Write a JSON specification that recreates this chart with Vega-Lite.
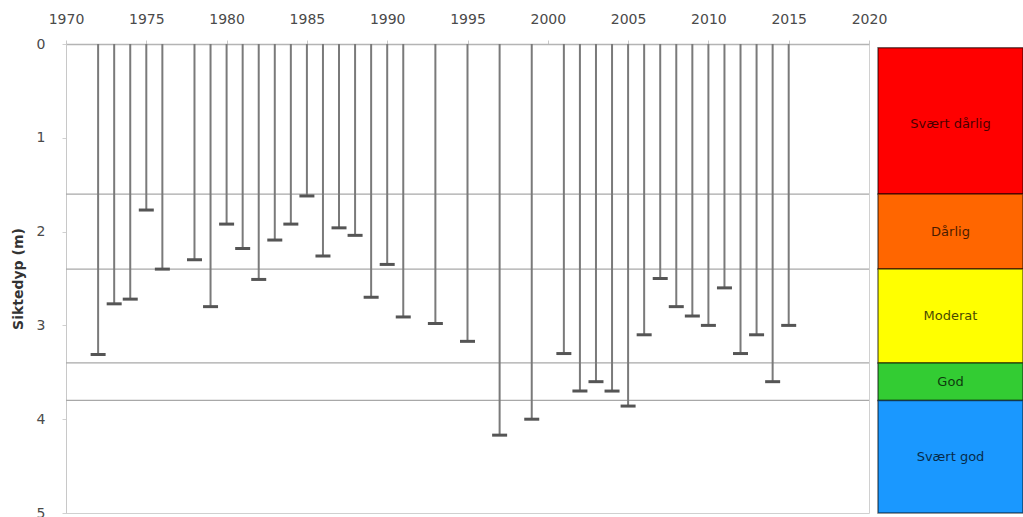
{
  "$schema": "https://vega.github.io/schema/vega-lite/v6.json",
  "padding": {"left": 10, "top": 11, "right": 0, "bottom": 0},
  "background": "white",
  "spacing": 9,
  "bounds": "flush",
  "config": {
    "font": "DejaVu Sans",
    "axis": {"labelFont": "DejaVu Sans", "titleFont": "DejaVu Sans"}
  },
  "datasets": {
    "depth": [
      {"year": 1972, "depth": 3.31}, {"year": 1973, "depth": 2.77}, {"year": 1974, "depth": 2.72},
      {"year": 1975, "depth": 1.77}, {"year": 1976, "depth": 2.40}, {"year": 1978, "depth": 2.30},
      {"year": 1979, "depth": 2.80}, {"year": 1980, "depth": 1.92}, {"year": 1981, "depth": 2.18},
      {"year": 1982, "depth": 2.51}, {"year": 1983, "depth": 2.09}, {"year": 1984, "depth": 1.92},
      {"year": 1985, "depth": 1.62}, {"year": 1986, "depth": 2.26}, {"year": 1987, "depth": 1.96},
      {"year": 1988, "depth": 2.04}, {"year": 1989, "depth": 2.70}, {"year": 1990, "depth": 2.35},
      {"year": 1991, "depth": 2.91}, {"year": 1993, "depth": 2.98}, {"year": 1995, "depth": 3.17},
      {"year": 1997, "depth": 4.17}, {"year": 1999, "depth": 4.00}, {"year": 2001, "depth": 3.30},
      {"year": 2002, "depth": 3.70}, {"year": 2003, "depth": 3.60}, {"year": 2004, "depth": 3.70},
      {"year": 2005, "depth": 3.86}, {"year": 2006, "depth": 3.10}, {"year": 2007, "depth": 2.50},
      {"year": 2008, "depth": 2.80}, {"year": 2009, "depth": 2.90}, {"year": 2010, "depth": 3.00},
      {"year": 2011, "depth": 2.60}, {"year": 2012, "depth": 3.30}, {"year": 2013, "depth": 3.10},
      {"year": 2014, "depth": 3.60}, {"year": 2015, "depth": 3.00}
    ],
    "limits": [
      {"limit": 1.6}, {"limit": 2.4}, {"limit": 3.4}, {"limit": 3.8}
    ],
    "classes": [
      {"klasse": "Svært dårlig", "from": 0.04, "to": 1.6, "mid": 0.85},
      {"klasse": "Dårlig", "from": 1.6, "to": 2.4, "mid": 2.0},
      {"klasse": "Moderat", "from": 2.4, "to": 3.4, "mid": 2.9},
      {"klasse": "God", "from": 3.4, "to": 3.8, "mid": 3.6},
      {"klasse": "Svært god", "from": 3.8, "to": 5.0, "mid": 4.4}
    ]
  },
  "hconcat": [
    {
      "width": 803,
      "height": 469,
      "view": {"stroke": "#d0d0d0", "strokeWidth": 1},
      "layer": [
        {
          "data": {"name": "limits"},
          "mark": {"type": "rule", "color": "#a8a8a8", "strokeWidth": 1.2},
          "encoding": {
            "y": {"field": "limit", "type": "quantitative", "scale": {"domain": [0, 5], "reverse": true, "nice": false}},
            "x": {"datum": 1970, "type": "quantitative"},
            "x2": {"datum": 2020}
          }
        },
        {
          "data": {"name": "depth"},
          "mark": {"type": "rule", "color": "#7a7a7a", "strokeWidth": 2},
          "encoding": {
            "x": {
              "field": "year", "type": "quantitative",
              "scale": {"domain": [1970, 2020], "nice": false, "zero": false},
              "axis": {
                "orient": "top", "title": null, "values": [1970, 1975, 1980, 1985, 1990, 1995, 2000, 2005, 2010, 2015, 2020],
                "format": "d", "grid": false, "labelFontSize": 14, "labelColor": "#4a4a4a",
                "labelPadding": 14, "tickSize": 4, "tickColor": "#c8c8c8", "domainColor": "#b4b4b4", "domainWidth": 1.5,
                "labelFlush": false
              }
            },
            "y": {
              "field": "depth", "type": "quantitative",
              "scale": {"domain": [0, 5], "reverse": true, "nice": false, "zero": true},
              "axis": {
                "title": "Siktedyp (m)", "values": [0, 1, 2, 3, 4, 5], "format": "d", "grid": false,
                "labelFontSize": 14, "labelColor": "#4a4a4a", "labelPadding": 17, "tickSize": 4,
                "tickColor": "#d0d0d0", "domainColor": "#c8c8c8",
                "titleFontSize": 14, "titleFontWeight": "bold", "titleColor": "#333333", "titlePadding": 11
              }
            },
            "y2": {"datum": 0}
          }
        },
        {
          "data": {"name": "depth"},
          "mark": {"type": "tick", "orient": "horizontal", "color": "#555555", "size": 15, "thickness": 3, "opacity": 1},
          "encoding": {
            "x": {"field": "year", "type": "quantitative"},
            "y": {"field": "depth", "type": "quantitative"}
          }
        }
      ]
    },
    {
      "width": 145,
      "height": 469,
      "view": {"stroke": null},
      "data": {"name": "classes"},
      "layer": [
        {
          "mark": {"type": "rect", "stroke": "#000000", "strokeOpacity": 0.55, "strokeWidth": 1.5},
          "encoding": {
            "x": {"datum": 0, "type": "quantitative", "scale": {"domain": [0, 1], "nice": false}, "axis": null},
            "x2": {"datum": 1},
            "y": {"field": "from", "type": "quantitative", "scale": {"domain": [0, 5], "reverse": true, "nice": false}, "axis": null},
            "y2": {"field": "to"},
            "color": {
              "field": "klasse", "type": "nominal", "legend": null,
              "scale": {
                "domain": ["Svært dårlig", "Dårlig", "Moderat", "God", "Svært god"],
                "range": ["#ff0000", "#ff6600", "#ffff00", "#33cc33", "#1a98ff"]
              }
            }
          }
        },
        {
          "mark": {"type": "text", "fontSize": 13, "color": "#000000", "opacity": 0.72, "align": "center", "baseline": "middle"},
          "encoding": {
            "x": {"datum": 0.5, "type": "quantitative"},
            "y": {"field": "mid", "type": "quantitative"},
            "text": {"field": "klasse"}
          }
        }
      ]
    }
  ]
}
